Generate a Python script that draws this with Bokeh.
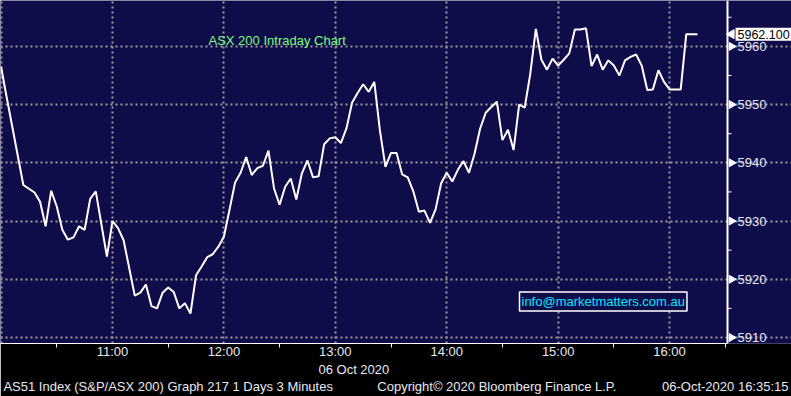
import math
from bokeh.plotting import figure
from bokeh.models import Range1d, FixedTicker, Label, LinearAxis, Span
from bokeh.core.properties import value
from bokeh.embed import file_html
from bokeh.resources import INLINE

# ---- data (3-minute bars, 06 Oct 2020) ----
times = ["10:00", "10:03", "10:12", "10:18", "10:21", "10:24", "10:27", "10:30", "10:33", "10:36",
         "10:39", "10:42", "10:45", "10:48", "10:51", "10:57", "11:00", "11:03", "11:06", "11:12",
         "11:15", "11:18", "11:21", "11:24", "11:27", "11:30", "11:33", "11:36", "11:39", "11:42",
         "11:45", "11:48", "11:51", "11:54", "11:57", "12:00", "12:03", "12:06", "12:09", "12:12",
         "12:15", "12:18", "12:21", "12:24", "12:27", "12:30", "12:33", "12:36", "12:39", "12:42",
         "12:45", "12:48", "12:51", "12:54", "12:57", "13:00", "13:03", "13:06", "13:09", "13:12",
         "13:15", "13:18", "13:21", "13:24", "13:27", "13:30", "13:33", "13:36", "13:39", "13:42",
         "13:45", "13:48", "13:51", "13:54", "13:57", "14:00", "14:03", "14:06", "14:09", "14:12",
         "14:15", "14:18", "14:21", "14:24", "14:27", "14:30", "14:33", "14:36", "14:39", "14:42",
         "14:45", "14:48", "14:51", "14:54", "14:57", "15:00", "15:03", "15:06", "15:09", "15:12",
         "15:15", "15:18", "15:21", "15:24", "15:27", "15:30", "15:33", "15:36", "15:39", "15:42",
         "15:45", "15:48", "15:51", "15:54", "15:57", "16:00", "16:06", "16:09", "16:15"]
prices = [5956.5, 5951.3, 5936.2, 5934.9, 5933.3, 5929.1, 5935.2, 5932.5, 5928.5, 5926.8,
          5927.2, 5929.1, 5928.5, 5933.8, 5935.1, 5923.9, 5930.0, 5928.8, 5926.7, 5917.2,
          5917.7, 5919.1, 5915.4, 5915.0, 5917.7, 5918.6, 5917.8, 5915.0, 5915.9, 5914.1,
          5920.7, 5922.2, 5923.8, 5924.3, 5925.6, 5927.3, 5931.9, 5936.6, 5938.3, 5941.0,
          5937.9, 5939.1, 5939.5, 5942.1, 5935.6, 5932.8, 5935.9, 5937.3, 5933.7, 5938.2,
          5940.4, 5937.5, 5937.7, 5943.2, 5944.2, 5944.4, 5943.4, 5945.9, 5950.3, 5952.0,
          5953.5, 5952.2, 5953.9, 5945.6, 5939.3, 5941.7, 5941.7, 5938.0, 5937.5, 5935.1,
          5931.6, 5931.8, 5929.7, 5932.0, 5936.5, 5938.3, 5936.8, 5938.8, 5940.3, 5938.3,
          5941.6, 5945.9, 5948.6, 5949.6, 5950.5, 5943.9, 5945.7, 5942.2, 5950.0, 5949.5,
          5955.3, 5963.0, 5957.7, 5956.0, 5957.9, 5956.7, 5957.7, 5958.8, 5962.9, 5962.9,
          5963.1, 5956.6, 5958.6, 5956.0, 5957.6, 5956.7, 5955.0, 5957.6, 5958.2, 5958.6,
          5956.7, 5952.5, 5952.6, 5955.9, 5953.9, 5952.6, 5952.6, 5962.1, 5962.1]
last_price = 5962.100

x_tick_labels = ["", "11:00", "12:00", "13:00", "14:00", "15:00", "16:00"]
y_ticks = [5910, 5920, 5930, 5940, 5950, 5960]
y_tick_labels = ["5910", "5920", "5930", "5940", "5950", "5960"]
y_minor_ticks = [5915, 5925, 5935, 5945, 5955, 5965]

title_text = "ASX 200 Intraday Chart"
date_text = "06 Oct 2020"
watermark = "info@marketmatters.com.au"
footer_texts = ["AS51 Index (S&P/ASX 200) Graph 217 1 Days 3 Minutes",
                "Copyright\u00a9 2020 Bloomberg Finance L.P.",
                "06-Oct-2020 16:35:15"]


def to_min(t):
    h, m = t.split(":")
    return int(h) * 60 + int(m)


xs = [to_min(t) for t in times]
x_ticks = [600 + 60 * i for i in range(len(x_tick_labels))]
x_minor = [630 + 60 * i for i in range(7)]

NAVY = "#0f0c4a"
TXT = "#e8e8f0"
FONT = "Liberation Sans"
AXIS_PX = 727          # pixel column of the price axis line
FRAME_W, FRAME_H = 791, 344
X0, X_AXIS = 599.7, 991.2
X_END = X0 + FRAME_W * (X_AXIS - X0) / AXIS_PX
Y0, Y1 = 5908.97, 5967.88


def px_x(px):
    return X0 + px * (X_AXIS - X0) / AXIS_PX


def px_y(py):
    return Y1 - py * (Y1 - Y0) / FRAME_H


p = figure(width=791, height=396, output_backend="svg", toolbar_location=None,
           x_range=Range1d(X0, X_END), y_range=Range1d(Y0, Y1),
           y_axis_location=None,
           min_border_left=0, min_border_top=0, min_border_right=0, min_border_bottom=52)
p.background_fill_color = NAVY
p.border_fill_color = "black"
p.outline_line_color = None

# x axis (time)
xa = p.xaxis[0]
xa.ticker = FixedTicker(ticks=x_ticks, minor_ticks=x_minor)
xa.bounds = (X0, X_AXIS)
xa.major_label_overrides = {t: l for t, l in zip(x_ticks, x_tick_labels)}
xa.axis_line_color = "white"
xa.axis_line_width = 1
xa.major_tick_line_color = None
xa.major_tick_out = 0
xa.major_tick_in = 0
xa.minor_tick_line_color = "white"
xa.minor_tick_out = 4
xa.minor_tick_in = 0
xa.major_label_standoff = -4
xa.major_label_text_color = TXT
xa.major_label_text_font = FONT
xa.major_label_text_font_size = "13px"


def text_axis(tick_minutes, labels, standoff):
    ax = LinearAxis(ticker=FixedTicker(ticks=tick_minutes, minor_ticks=[]),
                    major_label_overrides={t: l for t, l in zip(tick_minutes, labels)})
    ax.axis_line_color = None
    ax.major_tick_line_color = None
    ax.minor_tick_line_color = None
    ax.major_tick_out = 0
    ax.major_tick_in = 0
    ax.minor_tick_out = 0
    ax.major_label_standoff = standoff
    ax.major_label_text_color = TXT
    ax.major_label_text_font = FONT
    ax.major_label_text_font_size = "13px"
    p.add_layout(ax, "below")
    return ax


text_axis([790], [date_text], 0)
text_axis([690, 867, 990], footer_texts, -1)

# grids (dotted, stopping at the price axis)
for g in p.xgrid:
    g.grid_line_color = "#9a9a9a"
    g.grid_line_dash = "2 3"
    g.grid_line_width = 2
for g in p.ygrid:
    g.ticker = FixedTicker(ticks=y_ticks)
    g.bounds = (X0, X_AXIS)
    g.grid_line_color = "#9a9a9a"
    g.grid_line_dash = "2 3"
    g.grid_line_width = 2

# price axis on the right, drawn inside the frame
p.add_layout(Span(location=X_AXIS, dimension="height", line_color="white", line_width=2))
p.segment(x0=[X_AXIS] * len(y_minor_ticks), y0=y_minor_ticks,
          x1=[px_x(AXIS_PX + 4)] * len(y_minor_ticks), y1=y_minor_ticks,
          line_color="white", line_width=1)
p.scatter(x=[px_x(AXIS_PX + 4)] * len(y_ticks), y=y_ticks, marker="triangle",
          size=8, angle=-math.pi / 2, fill_color="white", line_color="white")
p.text(x=[px_x(AXIS_PX + 10)] * len(y_ticks), y=y_ticks, text=y_tick_labels,
       text_color=TXT, text_font=value(FONT), text_font_size="13px",
       text_baseline="middle", text_align="left")

p.line(xs, prices, line_color="white", line_width=2)

p.add_layout(Label(x=px_x(208), y=px_y(40), text=title_text, text_color="#7dfc7d",
                   text_font=FONT, text_font_size="13px",
                   text_baseline="middle", text_align="left"))
p.add_layout(Label(x=px_x(519), y=px_y(302), text=watermark, text_color="#00e8ff",
                   text_font=FONT, text_font_size="13px",
                   text_baseline="middle", text_align="left",
                   border_line_color="white", border_line_width=1.5,
                   background_fill_color=NAVY, padding=2))

# last-price flag
p.scatter(x=[px_x(AXIS_PX + 4)], y=[last_price], marker="triangle", size=9,
          angle=math.pi / 2, fill_color="white", line_color="white")
p.add_layout(Label(x=px_x(AXIS_PX + 8), y=last_price,
                   text="%.3f" % last_price, text_color="black",
                   text_font=FONT, text_font_size="12.5px",
                   text_baseline="middle", text_align="left",
                   background_fill_color="white", padding=2))

open("out.html", "w").write(file_html(p, INLINE))
